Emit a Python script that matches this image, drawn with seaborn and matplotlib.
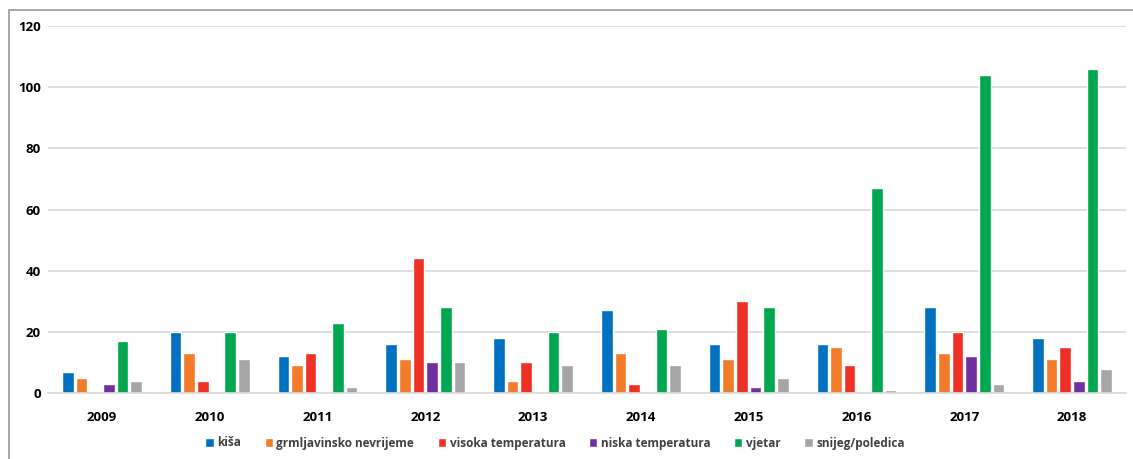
import matplotlib
matplotlib.use("Agg")
import matplotlib.pyplot as plt
import seaborn as sns
import pandas as pd
from matplotlib.patches import Rectangle

years = ["2009", "2010", "2011", "2012", "2013", "2014", "2015", "2016", "2017", "2018"]
kisa = [7, 20, 12, 16, 18, 27, 16, 16, 28, 18]
grmljavinsko = [5, 13, 9, 11, 4, 13, 11, 15, 13, 11]
visoka = [0, 4, 13, 44, 10, 3, 30, 9, 20, 15]
niska = [3, 0, 0, 10, 0, 0, 2, 0, 12, 4]
vjetar = [17, 20, 23, 28, 20, 21, 28, 67, 104, 106]
snijeg = [4, 11, 2, 10, 9, 9, 5, 1, 3, 8]

series_names = ["kiša", "grmljavinsko nevrijeme", "visoka temperatura",
                "niska temperatura", "vjetar", "snijeg/poledica"]
series_values = [kisa, grmljavinsko, visoka, niska, vjetar, snijeg]
colors = ["#0070C0", "#F47B2A", "#EE3124", "#7030A0", "#00A650", "#A6A6A6"]

rows = []
for name, vals in zip(series_names, series_values):
    for y, v in zip(years, vals):
        rows.append({"godina": y, "vrsta": name, "broj": v})
df = pd.DataFrame(rows)

sns.set_theme(style="white")
plt.rcParams["font.family"] = ["Open Sans", "DejaVu Sans"]

fig = plt.figure(figsize=(11.33, 4.59), dpi=100)
ax = fig.add_axes([48 / 1133, 66 / 459, (1126 - 48) / 1133, (393 - 26) / 459])

sns.barplot(data=df, x="godina", y="broj", hue="vrsta", order=years,
            hue_order=series_names, palette=colors, width=0.76, gap=0.15,
            ax=ax, legend=True, saturation=1)

ax.set_ylim(0, 120)
ax.set_yticks(range(0, 121, 20))
ax.yaxis.grid(True, color="#D9D9D9", linewidth=1.2)
ax.set_axisbelow(True)
for s in ["top", "right", "left"]:
    ax.spines[s].set_visible(False)
ax.spines["bottom"].set_color("#D9D9D9")
ax.spines["bottom"].set_linewidth(1.2)
ax.set_xlabel("")
ax.set_ylabel("")
ax.tick_params(axis="both", length=0, labelsize=9.5, colors="#000000")
ax.tick_params(axis="x", pad=13)
ax.tick_params(axis="y", pad=5)
for lbl in ax.get_xticklabels() + ax.get_yticklabels():
    lbl.set_fontweight("bold")

handles, labels = ax.get_legend_handles_labels()
ax.legend_.remove()
leg = fig.legend(handles, labels, loc="center", bbox_to_anchor=(555 / 1133, 1 - 443 / 459),
                 ncol=6, frameon=False, fontsize=8.5, handlelength=0.7, handleheight=0.7,
                 handletextpad=0.3, columnspacing=2.0)
for t in leg.get_texts():
    t.set_color("#404040")
    t.set_fontweight("bold")

# outer frame (only top and left visible in the cropped reference)
fig.patches.append(Rectangle((9 / 1133, -0.1), 1.2, 1 - 10 / 459 + 0.1,
                             transform=fig.transFigure, fill=False,
                             edgecolor="#A0A0A0", linewidth=1.3))

fig.savefig("out.png", dpi=100)
